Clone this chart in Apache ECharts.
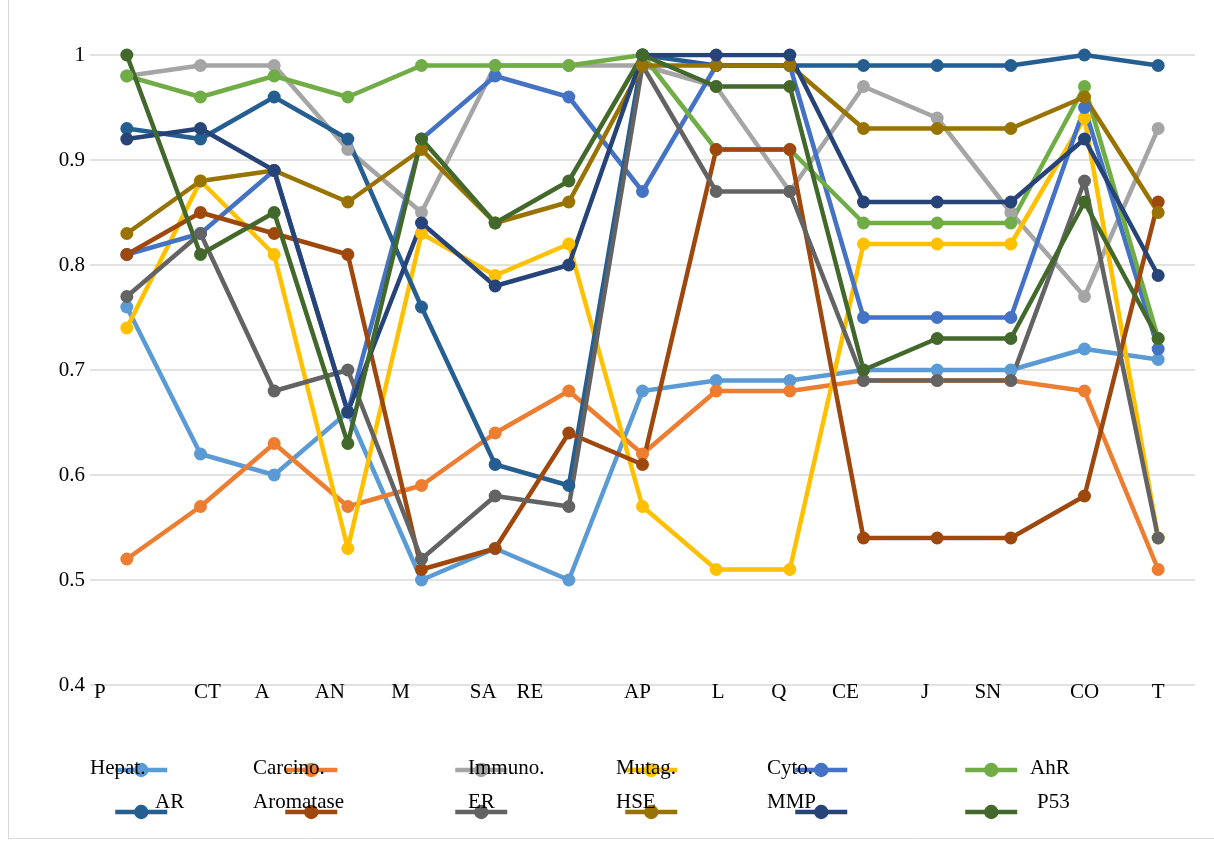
<!DOCTYPE html>
<html>
<head>
<meta charset="utf-8">
<script src="https://cdn.jsdelivr.net/npm/echarts@6/dist/echarts.min.js"></script>
<style>
html,body{margin:0;padding:0;background:#fff;}
#chart{width:1214px;height:841px;}
</style>
</head>
<body>
<div id="chart"></div>
<script>
const categories = ['P','CT','A','AN','M','SA','RE','AP','L','Q','CE','J','SN','CO','T'];
const seriesNames = ['Hepat.','Carcino.','Immuno.','Mutag.','Cyto.','AhR','AR','Aromatase','ER','HSE','MMP','P53'];
const hepat     = [0.76,0.62,0.60,0.66,0.50,0.53,0.50,0.68,0.69,0.69,0.70,0.70,0.70,0.72,0.71];
const carcino   = [0.52,0.57,0.63,0.57,0.59,0.64,0.68,0.62,0.68,0.68,0.69,0.69,0.69,0.68,0.51];
const immuno    = [0.98,0.99,0.99,0.91,0.85,0.99,0.99,0.99,0.97,0.87,0.97,0.94,0.85,0.77,0.93];
const mutag     = [0.74,0.88,0.81,0.53,0.83,0.79,0.82,0.57,0.51,0.51,0.82,0.82,0.82,0.94,0.54];
const cyto      = [0.81,0.83,0.89,0.66,0.92,0.98,0.96,0.87,0.99,0.99,0.75,0.75,0.75,0.95,0.72];
const ahr       = [0.98,0.96,0.98,0.96,0.99,0.99,0.99,1.00,0.91,0.91,0.84,0.84,0.84,0.97,0.73];
const ar        = [0.93,0.92,0.96,0.92,0.76,0.61,0.59,1.00,0.99,0.99,0.99,0.99,0.99,1.00,0.99];
const aromatase = [0.81,0.85,0.83,0.81,0.51,0.53,0.64,0.61,0.91,0.91,0.54,0.54,0.54,0.58,0.86];
const er        = [0.77,0.83,0.68,0.70,0.52,0.58,0.57,0.99,0.87,0.87,0.69,0.69,0.69,0.88,0.54];
const hse       = [0.83,0.88,0.89,0.86,0.91,0.84,0.86,0.99,0.99,0.99,0.93,0.93,0.93,0.96,0.85];
const mmp       = [0.92,0.93,0.89,0.66,0.84,0.78,0.80,1.00,1.00,1.00,0.86,0.86,0.86,0.92,0.79];
const p53       = [1.00,0.81,0.85,0.63,0.92,0.84,0.88,1.00,0.97,0.97,0.70,0.73,0.73,0.86,0.73];
const yMin = 0.4, yMax = 1, yStep = 0.1;

const allValues = [hepat,carcino,immuno,mutag,cyto,ahr,ar,aromatase,er,hse,mmp,p53];
const colors = ['#5B9BD5','#ED7D31','#A5A5A5','#FFC000','#4472C4','#70AD47','#255E91','#9E480E','#636363','#997300','#264478','#43682B'];
const FONT = "'Liberation Serif','Times New Roman',serif";

// label horizontal shifts (styling: reproduces the reference's label placement)
const labelShift = {P:-27,CT:7,A:-12,AN:-18,M:-21,SA:-12,RE:-39,AP:-5,L:2,Q:-11,CE:-18,J:-12,SN:-23,CO:0,T:0};
const rich = {};
categories.forEach((c,i)=>{
  const s = labelShift[c] || 0;
  rich['c'+i] = {fontFamily:FONT,fontSize:21,color:'#000',
    padding: s<0 ? [0,-2*s,0,0] : [0,0,0,2*s]};
});

const series = seriesNames.map((n,i)=>({
  name:n, type:'line', data:allValues[i],
  symbol:'circle', symbolSize:13,
  lineStyle:{width:4.5,color:colors[i]},
  itemStyle:{color:colors[i]},
  emphasis:{disabled:true},
  animation:false
}));

// legend: one component per item so each icon sits where the reference puts it
const legIconLeft = [113,283,453,623,793,963];
const legends = seriesNames.map((n,i)=>({
  data:[n], left:legIconLeft[i%6], top: i<6 ? 761 : 803, padding:0,
  itemWidth:52, itemHeight:18, formatter:()=>'',
  lineStyle:{width:4.5}, itemStyle:{},
  textStyle:{fontSize:1}, selectedMode:false
}));
const legTextPos = [[90,770],[253,770],[468,770],[616,770],[767,770],[1030,770],
                    [155,804],[253,804],[468,804],[616,804],[767,804],[1037,804]];
const legTexts = seriesNames.map((n,i)=>({
  type:'text', left:legTextPos[i][0], top:legTextPos[i][1]-12, z:100,
  style:{text:n, font:"21px "+FONT, fill:'#000'}
}));

const chart = echarts.init(document.getElementById('chart'),null,{renderer:'canvas'});
chart.setOption({
  backgroundColor:'#fff',
  animation:false,
  color:colors,
  grid:{left:90,right:19,top:55,bottom:156,containLabel:false},
  xAxis:{type:'category',data:categories,boundaryGap:true,
    axisLine:{show:false},axisTick:{show:false},
    axisLabel:{margin:-3,interval:0,
      formatter:(v,idx)=>'{c'+idx+'|'+v+'}', rich:rich}},
  yAxis:{type:'value',min:yMin,max:yMax,interval:yStep,
    axisLine:{show:false},axisTick:{show:false},
    axisLabel:{margin:5,fontFamily:FONT,fontSize:21,color:'#000'},
    splitLine:{lineStyle:{color:'#D9D9D9',width:1.5}}},
  legend:legends,
  graphic:[
    {type:'line',shape:{x1:8.5,y1:0,x2:8.5,y2:838},style:{stroke:'#D9D9D9',lineWidth:1}},
    {type:'line',shape:{x1:8,y1:838.5,x2:1214,y2:838.5},style:{stroke:'#D9D9D9',lineWidth:1}}
  ].concat(legTexts),
  series:series
});
</script>
</body>
</html>
